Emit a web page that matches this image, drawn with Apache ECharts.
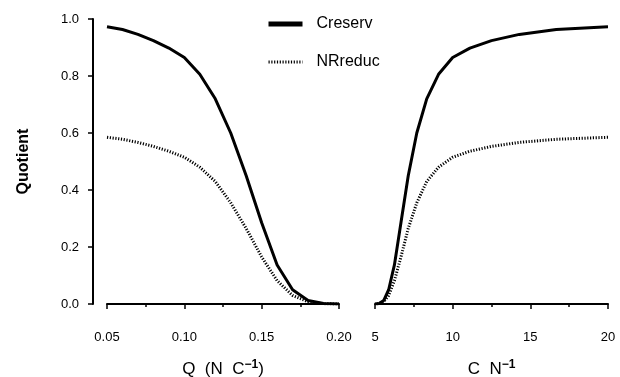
<!DOCTYPE html>
<html><head><meta charset="utf-8">
<script src="https://cdn.jsdelivr.net/npm/echarts@6/dist/echarts.min.js"></script>
<style>html,body{margin:0;padding:0;background:#fff}#c{width:620px;height:377px}</style>
</head><body><div id="c"></div>
<script>
// Left panel x: Q (N C^-1)
const qValues = [0.05,0.06,0.07,0.08,0.09,0.10,0.11,0.12,0.13,0.14,0.15,0.16,0.17,0.18,0.19,0.20];
// Right panel x: C N^-1 (same points)
const cnValues = [20,16.67,14.29,12.5,11.11,10,9.09,8.33,7.69,7.14,6.67,6.25,5.88,5.56,5.26,5];
const creserv = [0.973,0.963,0.946,0.924,0.898,0.865,0.806,0.72,0.60,0.45,0.285,0.137,0.05,0.012,0.002,0.0];
const nrreduc = [0.585,0.578,0.567,0.553,0.536,0.515,0.48,0.43,0.355,0.265,0.165,0.082,0.03,0.008,0.001,0.0];
const yTicks = [0,0.2,0.4,0.6,0.8,1.0];
const leftTicks = [0.05,0.10,0.15,0.20];
const rightTicks = [5,10,15,20];

const FONT = 'Liberation Sans, Arial, sans-serif';
const pair = (xs, ys) => xs.map((x,i)=>[x, ys[i]]);
const solid = {color:'#000', width:3};
const dotted = {color:'#000', width:3, type:[1.2,1.6]};

const chart = echarts.init(document.getElementById('c'), null, {renderer:'canvas'});
const axisCommon = {
  axisLine:{show:true, lineStyle:{color:'#000', width:2}},
  axisTick:{show:true, inside:false, length:5, lineStyle:{color:'#000', width:1.5}},
  splitLine:{show:false},
  axisLabel:{color:'#000', fontFamily:FONT, fontSize:13}
};
const nameRich = {
  a:{fontFamily:FONT, fontSize:17, color:'#000'},
  s:{fontFamily:FONT, fontSize:12, fontWeight:'bold', color:'#000', verticalAlign:'top', padding:[0,0,9,0]}
};
chart.setOption({
  animation:false,
  backgroundColor:'#fff',
  textStyle:{fontFamily:FONT},
  grid:[
    {left:107, top:19, width:232, height:285, outerBoundsMode:'none', containLabel:false},
    {left:375, top:19, width:233, height:285, outerBoundsMode:'none', containLabel:false}
  ],
  legend:{
    orient:'vertical', left:261, top:11, itemWidth:34, itemHeight:14, itemGap:22,
    data:[
      {name:'Creserv', lineStyle:{width:5, type:'solid', color:'#000'}},
      {name:'NRreduc', lineStyle:{width:3, type:[1.2,1.6], color:'#000'}}
    ],
    itemStyle:{color:'rgba(0,0,0,0)', borderColor:'rgba(0,0,0,0)', borderWidth:0, opacity:0},
    textStyle:{fontFamily:FONT, fontSize:16, color:'#000', padding:[0,0,0,9]}
  },
  xAxis:[
    Object.assign({}, axisCommon, {
      type:'value', gridIndex:0, min:leftTicks[0], max:leftTicks[leftTicks.length-1], interval:0.05,
      position:'bottom', offset:13,
      minorTick:{show:true, splitNumber:2, length:3, lineStyle:{color:'#000', width:1.5}},
      axisLabel:Object.assign({}, axisCommon.axisLabel, {margin:14, formatter:v=>v.toFixed(2)}),
      name:'{a|Q  (N  C}{s|−1}{a|)}', nameLocation:'middle', nameGap:42,
      nameTextStyle:{rich:nameRich}
    }),
    Object.assign({}, axisCommon, {
      type:'value', gridIndex:1, min:rightTicks[0], max:rightTicks[rightTicks.length-1], interval:5,
      position:'bottom', offset:13,
      minorTick:{show:true, splitNumber:2, length:3, lineStyle:{color:'#000', width:1.5}},
      axisLabel:Object.assign({}, axisCommon.axisLabel, {margin:14}),
      name:'{a|C  N}{s|−1}', nameLocation:'middle', nameGap:42,
      nameTextStyle:{rich:nameRich}
    })
  ],
  yAxis:[
    Object.assign({}, axisCommon, {
      type:'value', gridIndex:0, min:yTicks[0], max:yTicks[yTicks.length-1], interval:0.2,
      offset:14,
      axisLabel:Object.assign({}, axisCommon.axisLabel, {margin:14, formatter:v=>v.toFixed(1)}),
      name:'Quotient', nameLocation:'middle', nameGap:61, nameRotate:90,
      nameTextStyle:{fontFamily:FONT, fontSize:16, fontWeight:'bold', color:'#000'}
    }),
    {type:'value', gridIndex:1, min:0, max:1, show:false}
  ],
  series:[
    {name:'Creserv', type:'line', xAxisIndex:0, yAxisIndex:0, data:pair(qValues, creserv), showSymbol:false, symbol:'none', lineStyle:solid, itemStyle:{color:'#000'}},
    {name:'NRreduc', type:'line', xAxisIndex:0, yAxisIndex:0, data:pair(qValues, nrreduc), showSymbol:false, symbol:'none', lineStyle:dotted, itemStyle:{color:'#000'}},
    {name:'Creserv', type:'line', xAxisIndex:1, yAxisIndex:1, data:pair(cnValues, creserv), showSymbol:false, symbol:'none', lineStyle:solid, itemStyle:{color:'#000'}},
    {name:'NRreduc', type:'line', xAxisIndex:1, yAxisIndex:1, data:pair(cnValues, nrreduc), showSymbol:false, symbol:'none', lineStyle:dotted, itemStyle:{color:'#000'}}
  ]
});
</script></body></html>
